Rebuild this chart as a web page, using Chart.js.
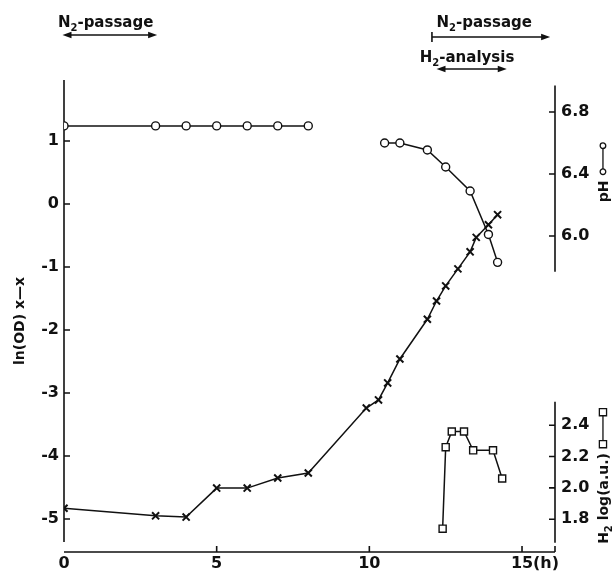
<!DOCTYPE html>
<html>
<head>
<meta charset="utf-8">
<script src="https://cdn.jsdelivr.net/npm/chart.js"></script>
<style>
html, body { margin: 0; padding: 0; background: #fff; }
</style>
</head>
<body>
<canvas id="growthChart" width="614" height="573"></canvas>
<script>
// Growth (ln OD), pH and H2 over time, with N2-passage periods marked on top

const odHours = [0, 3, 4, 5, 6, 7, 8, 9.9, 10.3, 10.6, 11.0, 11.9, 12.2, 12.5, 12.9, 13.3, 13.5, 13.9, 14.2];
const odValues = [-4.83, -4.95, -4.97, -4.51, -4.51, -4.35, -4.27, -3.24, -3.11, -2.84, -2.46, -1.83, -1.54, -1.30, -1.03, -0.76, -0.53, -0.33, -0.17];

const phHoursEarly = [0, 3, 4, 5, 6, 7, 8];
const phValuesEarly = [6.71, 6.71, 6.71, 6.71, 6.71, 6.71, 6.71];
const phHoursLate = [10.5, 11.0, 11.9, 12.5, 13.3, 13.9, 14.2];
const phValuesLate = [6.60, 6.60, 6.555, 6.445, 6.29, 6.01, 5.83];

const h2Hours = [12.4, 12.5, 12.7, 13.1, 13.4, 14.05, 14.35];
const h2Values = [1.74, 2.26, 2.36, 2.36, 2.24, 2.24, 2.06];

const xTicks = [0, 5, 10, 15];
const odTicks = [1, 0, -1, -2, -3, -4, -5];
const phTicks = [6.8, 6.4, 6.0];
const h2Ticks = [2.4, 2.2, 2.0, 1.8];

// periods (h) shown above the plot
const n2PassageFirst = [-0.05, 3.05];
const n2PassageSecond = [12.05, 15.92];
const h2Analysis = [12.2, 14.5];

const INK = '#111';
const tickFont = { family: 'DejaVu Sans', weight: 'bold', size: 16 };

function pts(xs, ys) {
    return xs.map((h, i) => ({ x: h, y: ys[i] }));
}

function setTicks(list) {
    return scale => { scale.ticks = list.map(v => ({ value: v })); };
}

// small "o—o" / "□—□" key drawn after a title
function keyGlyph(ctx, kind, x0, len, y) {
    const mark = cx => {
        ctx.beginPath();
        if (kind === 'circle') ctx.arc(cx, y, 2.8, 0, Math.PI * 2);
        else ctx.rect(cx - 3.6, y - 3.6, 7.2, 7.2);
        ctx.fillStyle = '#fff';
        ctx.fill();
        ctx.stroke();
    };
    ctx.save();
    ctx.strokeStyle = INK;
    ctx.lineWidth = 1.3;
    ctx.beginPath();
    ctx.moveTo(x0 + 4, y);
    ctx.lineTo(x0 + len - 4, y);
    ctx.stroke();
    mark(x0 + 4);
    mark(x0 + len - 4);
    ctx.restore();
}

// text with a subscript "2" and optional key glyph
function richText(ctx, parts, x, y, size, align) {
    const sub = Math.round(size * 0.68);
    const widthOf = p => {
        if (p.glyph) return p.len;
        ctx.font = `bold ${p.sub ? sub : size}px "DejaVu Sans"`;
        return ctx.measureText(p.t).width;
    };
    const total = parts.reduce((s, p) => s + widthOf(p), 0);
    let cx = align === 'center' ? x - total / 2 : x;
    ctx.textAlign = 'left';
    ctx.textBaseline = 'alphabetic';
    parts.forEach(p => {
        if (p.glyph) {
            keyGlyph(ctx, p.glyph, cx, p.len, y - size * 0.36);
            cx += p.len;
            return;
        }
        ctx.font = `bold ${p.sub ? sub : size}px "DejaVu Sans"`;
        ctx.fillText(p.t, cx, p.sub ? y + size * 0.28 : y);
        cx += ctx.measureText(p.t).width;
    });
}

function arrowHead(ctx, x, y, dir) {
    ctx.beginPath();
    ctx.moveTo(x, y);
    ctx.lineTo(x - dir * 9, y - 3.2);
    ctx.lineTo(x - dir * 9, y + 3.2);
    ctx.closePath();
    ctx.fill();
}

const paperAxes = {
    id: 'paperAxes',
    beforeDatasetsDraw(chart) {
        const { ctx, chartArea: a, scales } = chart;
        const { x, y, yPH, yH2 } = scales;
        ctx.save();
        ctx.strokeStyle = INK;
        ctx.lineWidth = 1.6;
        ctx.beginPath();
        ctx.moveTo(a.left, a.top);
        ctx.lineTo(a.left, a.bottom - 10);
        ctx.moveTo(a.left, a.bottom);
        ctx.lineTo(a.right, a.bottom);
        ctx.moveTo(a.right, yPH.getPixelForValue(6.97));
        ctx.lineTo(a.right, yPH.getPixelForValue(5.77));
        ctx.moveTo(a.right, yH2.getPixelForValue(2.55));
        ctx.lineTo(a.right, yH2.getPixelForValue(1.65));
        odTicks.forEach(v => {
            const p = y.getPixelForValue(v);
            ctx.moveTo(a.left, p);
            ctx.lineTo(a.left + 6, p);
        });
        xTicks.slice(1).forEach(v => {
            const p = x.getPixelForValue(v);
            ctx.moveTo(p, a.bottom);
            ctx.lineTo(p, a.bottom - 6);
        });
        ctx.moveTo(a.right, a.bottom);
        ctx.lineTo(a.right, a.bottom - 6);
        phTicks.forEach(v => {
            const p = yPH.getPixelForValue(v);
            ctx.moveTo(a.right, p);
            ctx.lineTo(a.right - 6, p);
        });
        h2Ticks.forEach(v => {
            const p = yH2.getPixelForValue(v);
            ctx.moveTo(a.right, p);
            ctx.lineTo(a.right - 6, p);
        });
        ctx.stroke();
        ctx.restore();
    },
    afterDraw(chart) {
        const { ctx, scales } = chart;
        const x = scales.x;
        ctx.save();
        ctx.fillStyle = INK;
        ctx.strokeStyle = INK;
        ctx.lineWidth = 1.6;

        // "(h)" after the last x label
        ctx.font = 'bold 16px "DejaVu Sans"';
        ctx.textBaseline = 'middle';
        ctx.textAlign = 'left';
        ctx.fillText('(h)', x.getPixelForValue(15) + 11, 564);

        // axis titles, rotated
        const titles = [
            { cx: 19, cy: 321, parts: [{ t: 'ln(OD) x\u2014x' }] },
            { cx: 603, cy: 172, parts: [{ t: 'pH ' }, { glyph: 'circle', len: 34 }] },
            { cx: 603, cy: 476, parts: [{ t: 'H' }, { t: '2', sub: true }, { t: ' log(a.u.) ' }, { glyph: 'square', len: 40 }] }
        ];
        titles.forEach(tt => {
            ctx.save();
            ctx.translate(tt.cx, tt.cy);
            ctx.rotate(-Math.PI / 2);
            ctx.fillStyle = INK;
            richText(ctx, tt.parts, 0, 5, 14, 'center');
            ctx.restore();
        });

        // N2-passage, first period
        const n2Parts = [{ t: 'N' }, { t: '2', sub: true }, { t: '-passage' }];
        richText(ctx, n2Parts, x.getPixelForValue(-0.2), 27, 15, 'left');
        let x1 = x.getPixelForValue(n2PassageFirst[0]);
        let x2 = x.getPixelForValue(n2PassageFirst[1]);
        ctx.beginPath();
        ctx.moveTo(x1 + 4, 35);
        ctx.lineTo(x2 - 4, 35);
        ctx.stroke();
        arrowHead(ctx, x1, 35, -1);
        arrowHead(ctx, x2, 35, 1);

        // N2-passage, second period (open ended)
        richText(ctx, n2Parts, x.getPixelForValue(12.2), 27, 15, 'left');
        x1 = x.getPixelForValue(n2PassageSecond[0]);
        x2 = x.getPixelForValue(n2PassageSecond[1]);
        ctx.beginPath();
        ctx.moveTo(x1, 32);
        ctx.lineTo(x1, 42);
        ctx.moveTo(x1, 37);
        ctx.lineTo(x2 - 4, 37);
        ctx.stroke();
        arrowHead(ctx, x2, 37, 1);

        // H2-analysis
        richText(ctx, [{ t: 'H' }, { t: '2', sub: true }, { t: '-analysis' }], x.getPixelForValue(11.65), 62, 15, 'left');
        x1 = x.getPixelForValue(h2Analysis[0]);
        x2 = x.getPixelForValue(h2Analysis[1]);
        ctx.beginPath();
        ctx.moveTo(x1 + 4, 69);
        ctx.lineTo(x2 - 4, 69);
        ctx.stroke();
        arrowHead(ctx, x1, 69, -1);
        arrowHead(ctx, x2, 69, 1);

        ctx.restore();
    }
};

const lineStyle = {
    borderColor: INK,
    borderWidth: 1.5,
    pointBorderColor: INK,
    pointBackgroundColor: '#fff',
    fill: false,
    tension: 0
};

new Chart(document.getElementById('growthChart'), {
    type: 'line',
    data: {
        datasets: [
            { ...lineStyle, label: 'ln(OD)', yAxisID: 'y', data: pts(odHours, odValues),
              pointStyle: 'crossRot', pointRadius: 5, pointBorderWidth: 2 },
            { ...lineStyle, label: 'pH', yAxisID: 'yPH', data: pts(phHoursEarly, phValuesEarly),
              pointStyle: 'circle', pointRadius: 4, pointBorderWidth: 1.4 },
            { ...lineStyle, label: 'pH', yAxisID: 'yPH', data: pts(phHoursLate, phValuesLate),
              pointStyle: 'circle', pointRadius: 4, pointBorderWidth: 1.4 },
            { ...lineStyle, label: 'H2', yAxisID: 'yH2', data: pts(h2Hours, h2Values),
              pointStyle: 'rect', pointRadius: 5, pointBorderWidth: 1.4 }
        ]
    },
    options: {
        responsive: false,
        animation: false,
        layout: { padding: { top: 80, left: 0, right: 0, bottom: 0 } },
        plugins: {
            legend: { display: false },
            tooltip: { enabled: false }
        },
        scales: {
            x: {
                type: 'linear',
                min: 0,
                max: 16.08,
                border: { display: false },
                grid: { display: false, drawTicks: false },
                ticks: { color: INK, font: tickFont, padding: 2 },
                afterBuildTicks: setTicks(xTicks),
                afterFit: s => { s.height = 21; }
            },
            y: {
                position: 'left',
                min: -5.524,
                max: 1.968,
                border: { display: false },
                grid: { display: false, drawTicks: false },
                ticks: { color: INK, font: tickFont, padding: 5 },
                afterBuildTicks: setTicks(odTicks),
                afterFit: s => { s.width = 64; }
            },
            yPH: {
                position: 'right',
                stack: 'right',
                stackWeight: 1,
                min: 5.484,
                max: 7.006,
                border: { display: false },
                grid: { display: false, drawTicks: false },
                ticks: { color: INK, font: tickFont, padding: 6, callback: v => v.toFixed(1) },
                afterBuildTicks: setTicks(phTicks),
                afterFit: s => { s.width = 59; }
            },
            yH2: {
                position: 'right',
                stack: 'right',
                stackWeight: 1,
                min: 1.591,
                max: 3.097,
                border: { display: false },
                grid: { display: false, drawTicks: false },
                ticks: { color: INK, font: tickFont, padding: 6, callback: v => v.toFixed(1) },
                afterBuildTicks: setTicks(h2Ticks),
                afterFit: s => { s.width = 59; }
            }
        }
    },
    plugins: [paperAxes]
});
</script>
</body>
</html>
